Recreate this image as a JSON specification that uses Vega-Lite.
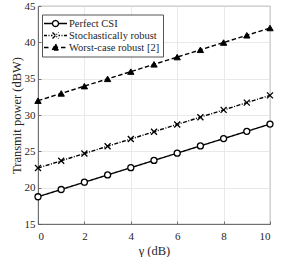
{
  "$schema": "https://vega.github.io/schema/vega-lite/v6.json",
  "width": 232,
  "height": 218,
  "autosize": {"type": "none"},
  "padding": {"left": 38, "top": 6, "right": 29, "bottom": 33},
  "background": "white",
  "config": {
    "font": "Liberation Serif",
    "view": {"stroke": "#555555", "strokeWidth": 0.8},
    "axis": {
      "domainColor": "#555555",
      "domainWidth": 0.8,
      "gridColor": "#e3e3e3",
      "gridWidth": 0.8,
      "tickColor": "#555555",
      "tickSize": -3,
      "tickWidth": 0.8,
      "labelFont": "Liberation Serif",
      "labelFontSize": 11,
      "labelColor": "#262626",
      "titleFont": "Liberation Serif",
      "titleFontSize": 12.5,
      "titleFontWeight": "normal",
      "titleColor": "#262626"
    }
  },
  "data": {
    "values": [
      {"g": 0, "p": 18.75, "series": "Perfect CSI"},
      {"g": 1, "p": 19.75, "series": "Perfect CSI"},
      {"g": 2, "p": 20.75, "series": "Perfect CSI"},
      {"g": 3, "p": 21.75, "series": "Perfect CSI"},
      {"g": 4, "p": 22.75, "series": "Perfect CSI"},
      {"g": 5, "p": 23.75, "series": "Perfect CSI"},
      {"g": 6, "p": 24.75, "series": "Perfect CSI"},
      {"g": 7, "p": 25.75, "series": "Perfect CSI"},
      {"g": 8, "p": 26.75, "series": "Perfect CSI"},
      {"g": 9, "p": 27.75, "series": "Perfect CSI"},
      {"g": 10, "p": 28.75, "series": "Perfect CSI"},
      {"g": 0, "p": 22.7, "series": "Stochastically robust"},
      {"g": 1, "p": 23.7, "series": "Stochastically robust"},
      {"g": 2, "p": 24.7, "series": "Stochastically robust"},
      {"g": 3, "p": 25.7, "series": "Stochastically robust"},
      {"g": 4, "p": 26.7, "series": "Stochastically robust"},
      {"g": 5, "p": 27.7, "series": "Stochastically robust"},
      {"g": 6, "p": 28.7, "series": "Stochastically robust"},
      {"g": 7, "p": 29.7, "series": "Stochastically robust"},
      {"g": 8, "p": 30.7, "series": "Stochastically robust"},
      {"g": 9, "p": 31.7, "series": "Stochastically robust"},
      {"g": 10, "p": 32.7, "series": "Stochastically robust"},
      {"g": 0, "p": 31.97, "series": "Worst-case robust [2]"},
      {"g": 1, "p": 32.97, "series": "Worst-case robust [2]"},
      {"g": 2, "p": 33.97, "series": "Worst-case robust [2]"},
      {"g": 3, "p": 34.97, "series": "Worst-case robust [2]"},
      {"g": 4, "p": 35.97, "series": "Worst-case robust [2]"},
      {"g": 5, "p": 36.97, "series": "Worst-case robust [2]"},
      {"g": 6, "p": 37.97, "series": "Worst-case robust [2]"},
      {"g": 7, "p": 38.97, "series": "Worst-case robust [2]"},
      {"g": 8, "p": 39.97, "series": "Worst-case robust [2]"},
      {"g": 9, "p": 40.97, "series": "Worst-case robust [2]"},
      {"g": 10, "p": 41.97, "series": "Worst-case robust [2]"}
    ]
  },
  "encoding": {
    "x": {
      "field": "g", "type": "quantitative",
      "scale": {"domain": [0, 10], "nice": false},
      "axis": {"values": [0, 2, 4, 6, 8, 10], "title": "γ (dB)", "labelPadding": 9, "titlePadding": 3}
    },
    "y": {
      "field": "p", "type": "quantitative",
      "scale": {"domain": [15, 45], "nice": false, "zero": false},
      "axis": {"values": [15, 20, 25, 30, 35, 40, 45], "title": "Transmit power (dBW)", "labelPadding": 6, "titlePadding": 1}
    }
  },
  "layer": [
    {
      "mark": {"type": "line", "color": "black", "strokeWidth": 1.4},
      "encoding": {
        "strokeDash": {
          "field": "series", "type": "nominal",
          "scale": {
            "domain": ["Perfect CSI", "Stochastically robust", "Worst-case robust [2]"],
            "range": [[1, 0], [4, 1.5, 1, 1.5], [4.5, 2.5]]
          },
          "legend": {
            "title": null,
            "orient": "none",
            "legendX": 4,
            "legendY": 8.5,
            "fillColor": "white",
            "strokeColor": "#555555",
            "padding": 3,
            "symbolSize": 100,
            "symbolStrokeWidth": 1.3,
            "symbolStrokeColor": "black",
            "labelFont": "Liberation Serif",
            "labelFontSize": 10.5,
            "labelColor": "#262626",
            "labelOffset": 12,
            "rowPadding": -1.5,
            "encode": {
              "symbols": {
                "update": {
                  "shape": {"signal": "datum.value === 'Perfect CSI' ? 'M-1.4,0H0.3M1.5,0H3.2M1.5,0A0.6,0.6 0 1,0 0.3,0A0.6,0.6 0 1,0 1.5,0' : datum.value === 'Stochastically robust' ? 'M-1.4,0H-0.8M-0.5,0H-0.3M0,0H0.3M0.3,-0.6L1.5,0.6M0.3,0.6L1.5,-0.6M1.5,0H1.8M2.1,0H2.3M2.6,0H3.2' : 'M-1.4,0H-0.2M2,0H3.2M0.25,0.5L0.9,-0.7L1.55,0.5Z'"},
                  "strokeDash": {"value": [1, 0]},
                  "fill": {"signal": "datum.value === 'Worst-case robust [2]' ? 'black' : 'white'"},
                  "stroke": {"value": "black"}
                }
              }
            }
          }
        }
      }
    },
    {
      "transform": [{"filter": "datum.series === 'Perfect CSI'"}],
      "mark": {"type": "point", "shape": "circle", "filled": true, "fill": "white", "stroke": "black", "strokeWidth": 1.3, "opacity": 1, "size": 36}
    },
    {
      "transform": [{"filter": "datum.series === 'Stochastically robust'"}],
      "mark": {"type": "point", "shape": "M-1,-1L1,1M1,-1L-1,1", "filled": false, "stroke": "black", "strokeWidth": 1.3, "opacity": 1, "size": 36}
    },
    {
      "transform": [{"filter": "datum.series === 'Worst-case robust [2]'"}],
      "mark": {"type": "point", "shape": "triangle-up", "filled": true, "fill": "black", "stroke": "black", "strokeWidth": 1, "opacity": 1, "size": 40}
    }
  ]
}
